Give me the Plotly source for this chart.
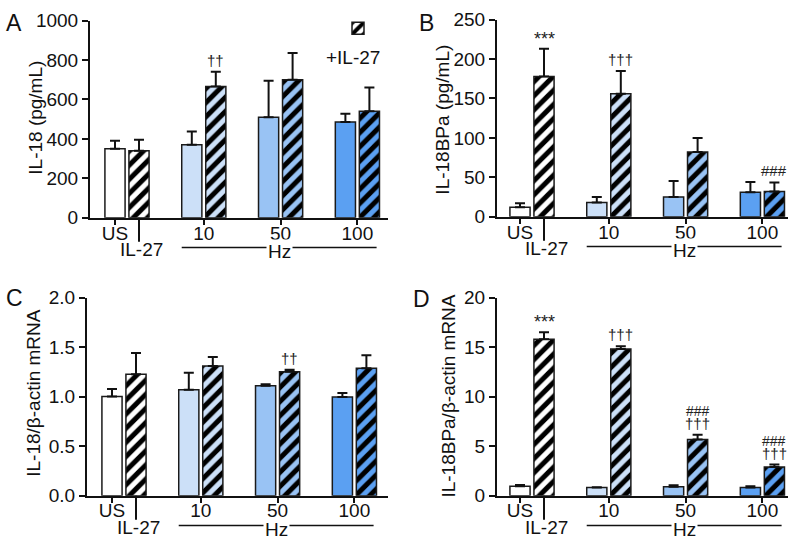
import plotly.graph_objects as go

W, H = 797, 548
FONT = "Liberation Sans, Arial, Helvetica, sans-serif"

# ---------------- data ----------------
group_labels = ["US", "10", "50", "100"]
group_colors = ["#ffffff", "#cce0f8", "#99c3f4", "#5ba0f2"]

# Panel A: IL-18 (pg/mL)
a_plain = [350, 370, 510, 485]
a_plain_top = [390, 437, 695, 528]
a_hatch = [340, 665, 700, 540]
a_hatch_top = [395, 740, 835, 660]
a_sig = ["", "††", "", ""]
a_sig2 = ["", "", "", ""]
a_yticks = [0, 200, 400, 600, 800, 1000]

# Panel B: IL-18BPa (pg/mL)
b_plain = [12, 18, 25, 31]
b_plain_top = [17, 25, 45.5, 44]
b_hatch = [178, 156, 82, 32]
b_hatch_top = [213, 185, 100, 43.5]
b_sig = ["***", "†††", "", "###"]
b_sig2 = ["", "", "", ""]
b_yticks = [0, 50, 100, 150, 200, 250]

# Panel C: IL-18/beta-actin mRNA
c_plain = [1.0, 1.07, 1.11, 0.995]
c_plain_top = [1.077, 1.24, 1.125, 1.037]
c_hatch = [1.225, 1.31, 1.25, 1.287]
c_hatch_top = [1.44, 1.40, 1.27, 1.417]
c_sig = ["", "", "††", ""]
c_sig2 = ["", "", "", ""]
c_yticks = [0.0, 0.5, 1.0, 1.5, 2.0]

# Panel D: IL-18BPa/beta-actin mRNA
d_plain = [0.95, 0.82, 0.91, 0.81]
d_plain_top = [1.07, 0.85, 1.04, 0.94]
d_hatch = [15.8, 14.8, 5.67, 2.88]
d_hatch_top = [16.5, 15.07, 6.16, 3.14]
d_sig = ["***", "†††", "†††", "†††"]
d_sig2 = ["", "", "###", "###"]
d_yticks = [0, 5, 10, 15, 20]

# ---------------- layout helpers ----------------
GROUP_STEP = 3.2
PAIR_OFF = 1.0
BAR_W = 0.84
PX_PER_UNIT = 24.0


def px(x):
    return x / W


def py(y):
    return 1 - y / H


panels = [
    dict(letter="A", title="IL-18 (pg/mL)", plain=a_plain, plain_top=a_plain_top,
         hatch=a_hatch, hatch_top=a_hatch_top, sig=a_sig, sig2=a_sig2,
         yticks=a_yticks, fmt="d", x0=90, x1=388, us=115, ybot=216, ytop=11,
         tx=36, ty=112, lx=14, ly=14),
    dict(letter="B", title="IL-18BPa (pg/mL)", plain=b_plain, plain_top=b_plain_top,
         hatch=b_hatch, hatch_top=b_hatch_top, sig=b_sig, sig2=b_sig2,
         yticks=b_yticks, fmt="d", x0=497, x1=788, us=520, ybot=215, ytop=10,
         tx=443, ty=114, lx=426, ly=14),
    dict(letter="C", title="IL-18/β-actin mRNA", plain=c_plain, plain_top=c_plain_top,
         hatch=c_hatch, hatch_top=c_hatch_top, sig=c_sig, sig2=c_sig2,
         yticks=c_yticks, fmt=".1f", x0=87, x1=388, us=112, ybot=505, ytop=299,
         tx=34, ty=398, lx=14, ly=299),
    dict(letter="D", title="IL-18BPa/β-actin mRNA", plain=d_plain, plain_top=d_plain_top,
         hatch=d_hatch, hatch_top=d_hatch_top, sig=d_sig, sig2=d_sig2,
         yticks=d_yticks, fmt="d", x0=497, x1=788, us=520, ybot=505, ytop=299,
         tx=449, ty=402, lx=421, ly=301),
]

fig = go.Figure()
annotations = []
shapes = []
layout_axes = {}

for i, p in enumerate(panels):
    n = i + 1
    xa = "x" if n == 1 else f"x{n}"
    ya = "y" if n == 1 else f"y{n}"
    xkey = "xaxis" if n == 1 else f"xaxis{n}"
    ykey = "yaxis" if n == 1 else f"yaxis{n}"

    xs_plain = [g * GROUP_STEP for g in range(len(group_labels))]
    xs_hatch = [g * GROUP_STEP + PAIR_OFF for g in range(len(group_labels))]

    plain_err = [t - v for t, v in zip(p["plain_top"], p["plain"])]
    hatch_err = [t - v for t, v in zip(p["hatch_top"], p["hatch"])]

    fig.add_trace(go.Bar(
        x=xs_plain, y=p["plain"], width=BAR_W, xaxis=xa, yaxis=ya,
        marker=dict(color=group_colors, line=dict(color="#1a1a1a", width=1.5)),
        error_y=dict(type="data", symmetric=False, array=plain_err,
                     arrayminus=[0] * len(plain_err), color="#111111",
                     thickness=2, width=5),
        showlegend=False, name="no IL-27",
    ))
    fig.add_trace(go.Bar(
        x=xs_hatch, y=p["hatch"], width=BAR_W, xaxis=xa, yaxis=ya,
        marker=dict(color="#000000", line=dict(color="#1a1a1a", width=1.5),
                    pattern=dict(shape="/", fgcolor="#000000", bgcolor=group_colors,
                                 fgopacity=1, size=10, solidity=0.5,
                                 fillmode="replace")),
        error_y=dict(type="data", symmetric=False, array=hatch_err,
                     arrayminus=[0] * len(hatch_err), color="#111111",
                     thickness=2, width=5),
        showlegend=(n == 1), name="",
    ))

    r0 = -(p["us"] - p["x0"]) / PX_PER_UNIT
    r1 = r0 + (p["x1"] - p["x0"]) / PX_PER_UNIT
    tickvals = [0] + [g * GROUP_STEP + PAIR_OFF / 2 for g in range(1, len(group_labels))]

    layout_axes[xkey] = dict(
        domain=[px(p["x0"]), px(p["x1"])], range=[r0, r1], anchor=ya,
        showline=True, linewidth=2, linecolor="#111111", ticks="outside",
        ticklen=5, tickwidth=2, tickcolor="#111111", tickvals=tickvals,
        ticktext=group_labels, tickfont=dict(size=19, color="#111111", family=FONT),
        ticklabelstandoff=-8,
        showgrid=False, zeroline=False, fixedrange=True,
    )
    layout_axes[ykey] = dict(
        domain=[py(p["ybot"]), py(p["ytop"])],
        range=[p["yticks"][0], p["yticks"][-1]], anchor=xa,
        showline=True, linewidth=2, linecolor="#111111", ticks="outside",
        ticklen=6, tickwidth=2, tickcolor="#111111", tickvals=p["yticks"],
        tickformat=p["fmt"], tickfont=dict(size=19, color="#111111", family=FONT),
        showgrid=False, zeroline=False, fixedrange=True,
    )

    # IL-27 long tick + label
    shapes.append(dict(type="line", xref=xa, yref="paper", x0=PAIR_OFF, x1=PAIR_OFF,
                       y0=py(p["ybot"]), y1=py(p["ybot"] + 25),
                       line=dict(color="#111111", width=2)))
    annotations.append(dict(text="IL-27", xref=xa, yref="paper", x=PAIR_OFF,
                            y=py(p["ybot"] + 33), xanchor="center", yanchor="middle",
                            xshift=2, showarrow=False,
                            font=dict(size=19, color="#111111", family=FONT)))
    # Hz line + label
    hz_x0 = GROUP_STEP - BAR_W / 2
    hz_x1 = (len(group_labels) - 1) * GROUP_STEP + PAIR_OFF + 0.3
    shapes.append(dict(type="line", xref=xa, yref="paper", x0=hz_x0, x1=hz_x1,
                       y0=py(p["ybot"] + 31), y1=py(p["ybot"] + 31),
                       line=dict(color="#111111", width=1.5)))
    annotations.append(dict(text="Hz", xref=xa, yref="paper", x=(hz_x0 + hz_x1) / 2,
                            y=py(p["ybot"] + 35), xanchor="center", yanchor="middle",
                            showarrow=False, bgcolor="#ffffff", borderpad=1,
                            font=dict(size=19, color="#111111", family=FONT)))
    # axis title
    annotations.append(dict(text=p["title"], xref="paper", yref="paper",
                            x=px(p["tx"]), y=py(p["ty"]), xanchor="center",
                            yanchor="middle", textangle=-90, showarrow=False,
                            font=dict(size=19, color="#111111", family=FONT)))
    # panel letter
    annotations.append(dict(text=p["letter"], xref="paper", yref="paper",
                            x=px(p["lx"]), y=py(p["ly"]), xanchor="center",
                            yanchor="middle", showarrow=False,
                            font=dict(size=23, color="#111111", family=FONT)))
    # significance marks
    for g in range(len(group_labels)):
        if p["sig"][g]:
            is_star = "*" in p["sig"][g]
            annotations.append(dict(text=p["sig"][g], xref=xa, yref=ya,
                                    x=xs_hatch[g], y=p["hatch_top"][g],
                                    xanchor="center", yanchor="bottom",
                                    yshift=-2 if is_star else 1,
                                    showarrow=False,
                                    font=dict(size=18 if is_star else 15,
                                              color="#222222", family=FONT)))
        if p["sig2"][g]:
            annotations.append(dict(text=p["sig2"][g], xref=xa, yref=ya,
                                    x=xs_hatch[g], y=p["hatch_top"][g],
                                    xanchor="center", yanchor="bottom", yshift=14,
                                    showarrow=False,
                                    font=dict(size=14, color="#222222", family=FONT)))

# legend caption
annotations.append(dict(text="+IL-27", xref="paper", yref="paper", x=px(353), y=py(49),
                        xanchor="center", yanchor="middle", showarrow=False,
                        font=dict(size=19, color="#111111", family=FONT)))

fig.update_layout(
    width=W, height=H, margin=dict(l=0, r=0, t=0, b=0),
    paper_bgcolor="#ffffff", plot_bgcolor="#ffffff",
    barmode="overlay", font=dict(family=FONT, color="#111111"),
    showlegend=True,
    legend=dict(x=px(338), y=py(4), xanchor="left", yanchor="top",
                bgcolor="rgba(0,0,0,0)", font=dict(size=12)),
    annotations=annotations, shapes=shapes,
    **layout_axes,
)

fig.write_html("out.html", config={"displayModeBar": False},
               post_script="document.body.style.margin='0';document.body.style.padding='0';")
